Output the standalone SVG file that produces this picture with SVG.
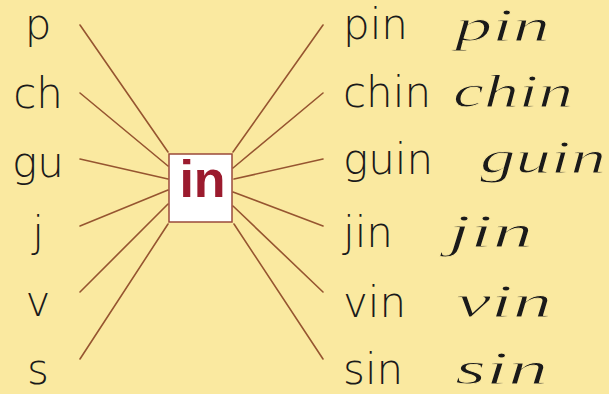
<svg xmlns="http://www.w3.org/2000/svg" width="609" height="394" viewBox="0 0 609 394">
<style>
.bg{fill:#FAE9A0}
.ln{stroke:#965530;stroke-width:1.6;fill:none;stroke-linecap:round}
.box{fill:#FFFFFF;stroke:#9A4A3A;stroke-width:1.5}
.c{font-family:"Liberation Sans",Arial,sans-serif;font-weight:bold;font-size:52px;fill:#9B1B2E;text-anchor:middle}
.s{font-family:"DejaVu Sans","Open Sans",sans-serif;font-weight:200;font-size:42px;fill:#1a1a1a}
.l{text-anchor:middle}
.k{font-family:"Liberation Serif","Times New Roman",serif;font-style:italic;font-size:46px;fill:#1a1a1a;stroke:#FAE9A0;stroke-width:0.9}
</style>
<rect class="bg" x="0" y="0" width="609" height="394"/>
<g id="connectors">
<line class="ln" x1="80" y1="25" x2="168" y2="152"/>
<line class="ln" x1="80" y1="93" x2="168" y2="166"/>
<line class="ln" x1="80" y1="159" x2="168" y2="179"/>
<line class="ln" x1="80" y1="226" x2="168" y2="190"/>
<line class="ln" x1="80" y1="292" x2="168" y2="204"/>
<line class="ln" x1="80" y1="359" x2="168" y2="224"/>
<line class="ln" x1="323" y1="25" x2="233" y2="152"/>
<line class="ln" x1="323" y1="93" x2="233" y2="168"/>
<line class="ln" x1="323" y1="159" x2="234" y2="179"/>
<line class="ln" x1="323" y1="226" x2="233" y2="192"/>
<line class="ln" x1="323" y1="292" x2="233" y2="206"/>
<line class="ln" x1="323" y1="359" x2="234" y2="224"/>
</g>
<g id="center">
<rect class="box" x="169" y="154" width="63" height="68"/>
<text class="c" x="202.5" y="197">in</text>
</g>
<g id="left">
<text class="s l" x="38" y="39">p</text>
<text class="s l" x="38" y="108">ch</text>
<text class="s l" x="38" y="177">gu</text>
<text class="s l" x="38" y="247">j</text>
<text class="s l" x="38" y="316">v</text>
<text class="s l" x="38" y="384">s</text>
</g>
<g id="right">
<text class="s" x="343" y="39">pin</text>
<text class="s" x="343" y="107">chin</text>
<text class="s" x="343" y="174">guin</text>
<text class="s" x="343" y="247">jin</text>
<text class="s" x="343" y="317">vin</text>
<text class="s" x="343" y="384">sin</text>
</g>
<g id="cursive">
<text class="k" x="455" y="41" textLength="95" lengthAdjust="spacingAndGlyphs">pin</text>
<text class="k" x="453" y="107" textLength="120" lengthAdjust="spacingAndGlyphs">chin</text>
<text class="k" x="480" y="173" textLength="126" lengthAdjust="spacingAndGlyphs">guin</text>
<text class="k" x="448" y="247" textLength="85" lengthAdjust="spacingAndGlyphs">jin</text>
<text class="k" x="456" y="317" textLength="96" lengthAdjust="spacingAndGlyphs">vin</text>
<text class="k" x="455" y="384" textLength="93" lengthAdjust="spacingAndGlyphs">sin</text>
</g>
</svg>
